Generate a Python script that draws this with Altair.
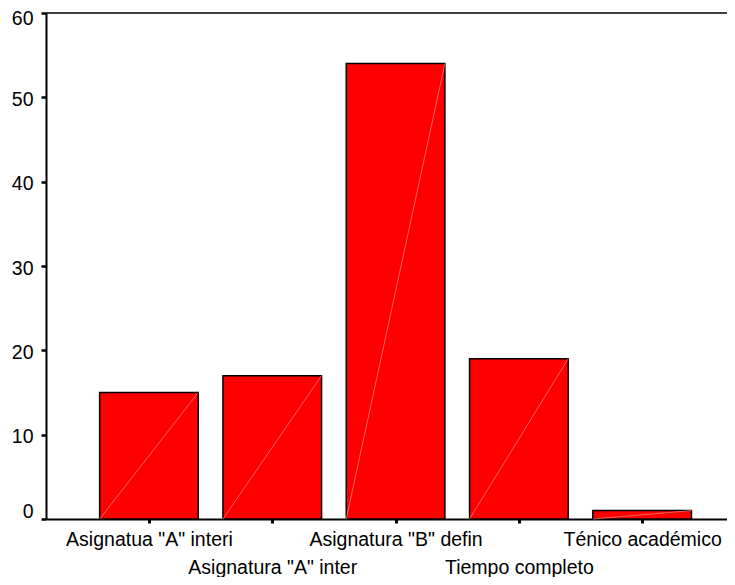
import json
import altair as alt
import pandas as pd

categories = ['Asignatua "A" interi', 'Asignatura "A" inter', 'Asignatura "B" defin',
              'Tiempo completo', 'Ténico académico']
values = [15, 17, 54, 19, 1]
y_ticks = [0, 10, 20, 30, 40, 50, 60]

half = 0.4
df = pd.DataFrame({
    "cat": categories,
    "idx": list(range(len(categories))),
    "value": values,
})
df["start"] = df["idx"] - half
df["end"] = df["idx"] + half
df["zero"] = 0

W, H = 681, 506
FONT = "Liberation Sans"

names = json.dumps(categories)
label_expr = (f"datum.value % 2 == 1 ? ['', {names}[datum.value]] : {names}[datum.value]")

xscale = alt.Scale(domain=[-0.835, 4.688], nice=False, zero=False)
yscale = alt.Scale(domain=[0, 60], nice=False)

xaxis = alt.Axis(values=list(range(len(categories))), labelExpr=label_expr, grid=False,
                 domainColor="black", domainWidth=2, tickColor="black", tickWidth=3,
                 tickSize=4, labelFontSize=19.5, labelFont=FONT, labelColor="black",
                 labelPadding=7, labelLineHeight=28, labelBaseline="top", labelAlign="center",
                 labelFlush=False, labelOverlap=False, title=None)
yaxis = alt.Axis(values=y_ticks, grid=False, domainColor="black", domainWidth=2,
                 tickColor="black", tickWidth=2.5, tickSize=5, labelFontSize=19.5,
                 labelFont=FONT, labelColor="black", labelPadding=8,
                 labelOffset={"condition": [
                     {"test": "datum.value === 0", "value": -8},
                     {"test": "datum.value === 60", "value": 5}], "value": 2},
                 title=None)

base = alt.Chart(df)

bars = base.mark_bar(color="#ff0000", stroke="black", strokeWidth=1.5).encode(
    x=alt.X("start:Q", scale=xscale, axis=xaxis),
    x2="end:Q",
    y=alt.Y("value:Q", scale=yscale, axis=yaxis),
    y2="zero:Q",
)

diag = base.mark_rule(color="#ff8c8c", strokeWidth=0.7).encode(
    x=alt.X("start:Q", scale=xscale),
    x2="end:Q",
    y=alt.Y("zero:Q", scale=yscale),
    y2="value:Q",
)

top = alt.Chart(pd.DataFrame({"v": [60]})).mark_rule(color="black", strokeWidth=1.5).encode(
    y=alt.Y("v:Q", scale=yscale),
    x=alt.value(0),
    x2=alt.value(W),
)

chart = alt.layer(bars, diag, top).properties(
    width=W, height=H,
    padding={"left": 38, "top": 5, "right": 0, "bottom": 58},
    autosize=alt.AutoSizeParams(type="none"),
    background="white",
).configure_view(stroke=None)

chart.save("out.html", embed_options={"renderer": "svg", "actions": False})
